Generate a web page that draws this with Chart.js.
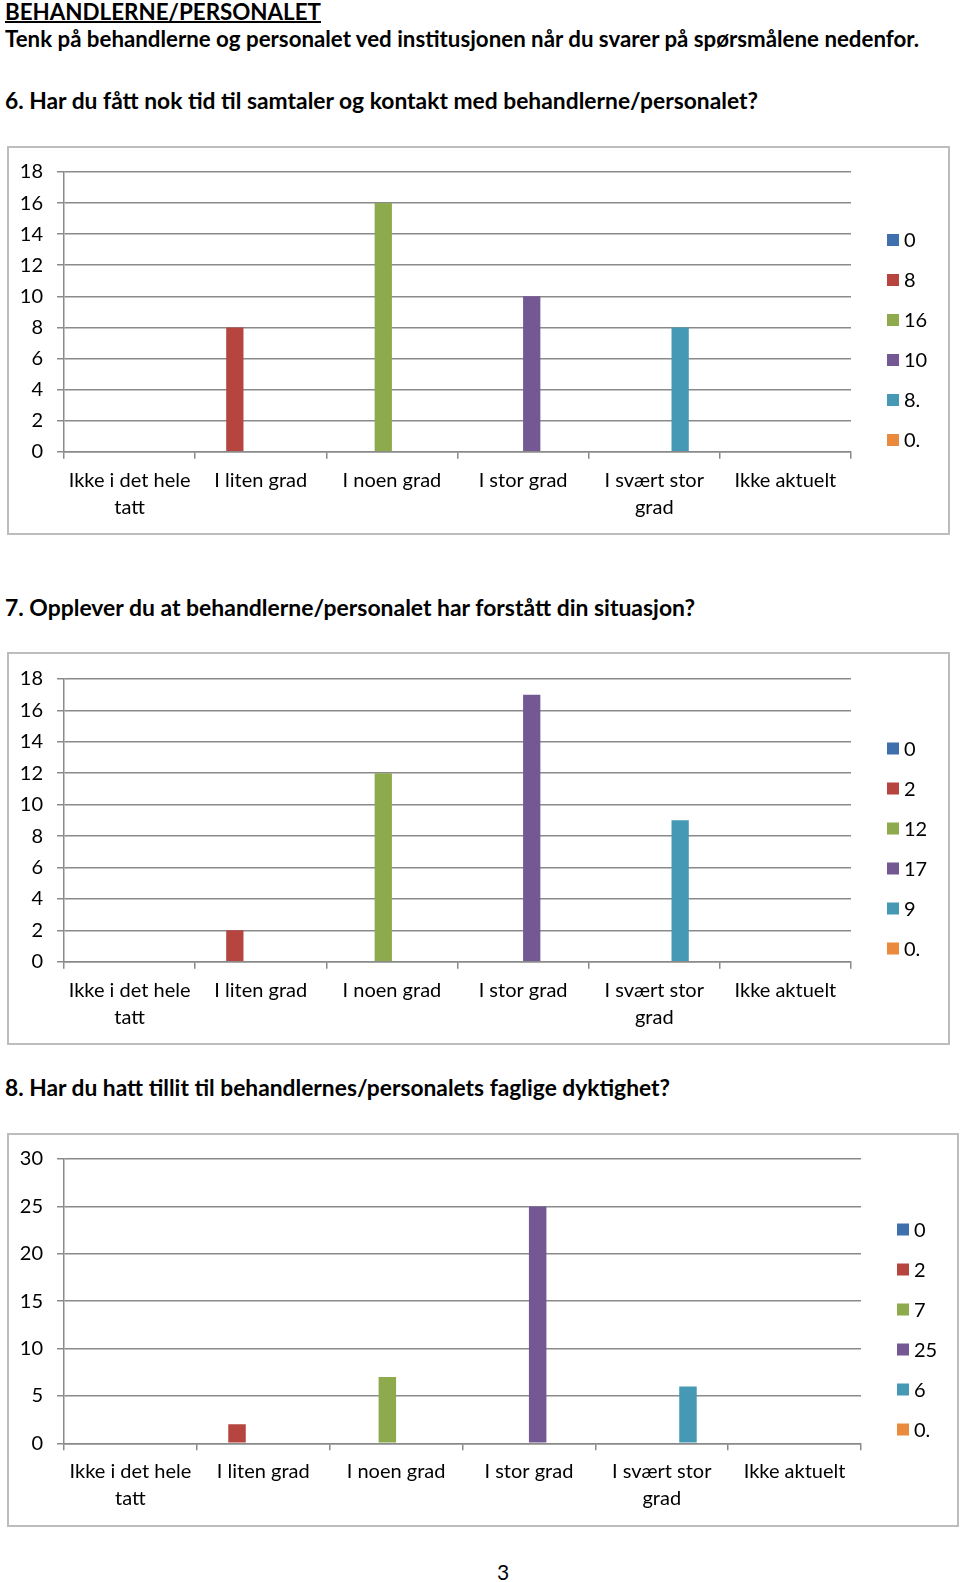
<!DOCTYPE html>
<html>
<head>
<meta charset="utf-8">
<script src="https://cdn.jsdelivr.net/npm/chart.js@4/dist/chart.umd.min.js"></script>
<style>
  html, body { margin: 0; padding: 0; background: #fff; }
  body { width: 960px; height: 1582px; position: relative; overflow: hidden; font-family: Lato, "Open Sans", sans-serif; }
  .t { position: absolute; left: 5px; white-space: nowrap; font-weight: bold; font-size: 22px; line-height: 22px; color: #000; transform-origin: 0 0; }
  .box { position: absolute; border: 2px solid #bdbdbd; box-sizing: border-box; }
  .cv { position: absolute; left: 0; }
  #pg { position: absolute; left: 497px; top: 1561px; font-size: 21px; line-height: 21px; }
</style>
</head>
<body>
<div class="t" id="h0" data-w="316" style="top:1px;text-decoration:underline;text-decoration-thickness:2px;">BEHANDLERNE/PERSONALET</div>
<div class="t" id="h1" data-w="914" style="top:28px;">Tenk på behandlerne og personalet ved institusjonen når du svarer på spørsmålene nedenfor.</div>
<div class="t" id="h2" data-w="753" style="top:90px;">6. Har du fått nok tid til samtaler og kontakt med behandlerne/personalet?</div>
<div class="t" id="h3" data-w="690" style="top:597px;">7. Opplever du at behandlerne/personalet har forstått din situasjon?</div>
<div class="t" id="h4" data-w="665" style="top:1077px;">8. Har du hatt tillit til behandlernes/personalets faglige dyktighet?</div>

<div class="box" style="left:7px;top:146px;width:943px;height:389px;"></div>
<div class="box" style="left:7px;top:652px;width:943px;height:393px;"></div>
<div class="box" style="left:7px;top:1133px;width:952px;height:394px;"></div>

<canvas class="cv" id="c1" width="960" height="388" style="top:146px"></canvas>
<canvas class="cv" id="c2" width="960" height="391" style="top:653px"></canvas>
<canvas class="cv" id="c3" width="960" height="393" style="top:1133px"></canvas>

<div id="pg">3</div>

<script>
// ---- data ----
const categories = [["Ikke i det hele", "tatt"], "I liten grad", "I noen grad", "I stor grad", ["I svært stor", "grad"], "Ikke aktuelt"];
const seriesColors = ["#3F70AE", "#B6443F", "#8DAA4D", "#735894", "#4599B5", "#E98A3C"];

const q6Values = [0, 8, 16, 10, 8, 0];
const q6Series = ["0", "8", "16", "10", "8.", "0."];
const q6YMax = 18, q6YStep = 2;

const q7Values = [0, 2, 12, 17, 9, 0];
const q7Series = ["0", "2", "12", "17", "9", "0."];
const q7YMax = 18, q7YStep = 2;

const q8Values = [0, 2, 7, 25, 6, 0];
const q8Series = ["0", "2", "7", "25", "6", "0."];
const q8YMax = 30, q8YStep = 5;

// ---- helpers ----
const FONT = "Lato";
const GRID = "#8a8a8a";

function legendPlugin(legendX) {
  return {
    id: "sideLegend",
    afterDraw(chart) {
      const ctx = chart.ctx;
      const ds = chart.data.datasets;
      const cy = chart.height / 2;
      ctx.save();
      ctx.font = "20px " + FONT;
      ctx.textBaseline = "middle";
      ctx.textAlign = "left";
      ds.forEach((d, i) => {
        const y = cy + (i - (ds.length - 1) / 2) * 40;
        ctx.fillStyle = d.backgroundColor;
        ctx.fillRect(legendX, y - 6, 12, 12);
        ctx.fillStyle = "#000";
        ctx.fillText(d.label, legendX + 17, y + 1);
      });
      ctx.restore();
    }
  };
}

function makeChart(id, values, names, yMax, yStep, opts) {
  const datasets = names.map((name, i) => ({
    label: name,
    data: categories.map((_, j) => (j === i ? values[i] : null)),
    backgroundColor: seriesColors[i],
    borderWidth: 0,
    categoryPercentage: 0.79,
    barPercentage: 1.0
  }));
  return new Chart(document.getElementById(id), {
    type: "bar",
    data: { labels: categories, datasets },
    plugins: [legendPlugin(opts.legendX)],
    options: {
      responsive: false,
      animation: false,
      devicePixelRatio: 1,
      layout: { padding: { top: opts.top, right: 960 - opts.right, left: 0, bottom: 0 } },
      plugins: { legend: { display: false }, tooltip: { enabled: false } },
      scales: {
        x: {
          grid: { drawOnChartArea: false, drawTicks: true, tickLength: 7, color: GRID, lineWidth: 1.5, offset: true },
          border: { color: GRID, width: 1.5 },
          ticks: { color: "#000", font: { family: FONT, size: 20, lineHeight: 1.35 }, padding: 8, maxRotation: 0, autoSkip: false },
          afterFit: s => { s.height = opts.bottomH; }
        },
        y: {
          min: 0, max: yMax,
          grid: { color: GRID, lineWidth: 1.5, tickLength: 7 },
          border: { color: GRID, width: 1.5 },
          ticks: { stepSize: yStep, color: "#000", font: { family: FONT, size: 20 }, padding: 14 },
          afterFit: s => { s.width = 64; }
        }
      }
    }
  });
}

function fitTitles() {
  document.querySelectorAll(".t").forEach(el => {
    const w = el.getBoundingClientRect().width;
    const target = parseFloat(el.dataset.w);
    el.style.transform = "scaleX(" + (target / w) + ")";
  });
}

fitTitles();
makeChart("c1", q6Values, q6Series, q6YMax, q6YStep, { top: 24.7, right: 851, bottomH: 82.3, legendX: 887 });
makeChart("c2", q7Values, q7Series, q7YMax, q7YStep, { top: 24.5, right: 851, bottomH: 82.3, legendX: 887 });
makeChart("c3", q8Values, q8Series, q8YMax, q8YStep, { top: 24.3, right: 861, bottomH: 82.7, legendX: 897 });
</script>
</body>
</html>
